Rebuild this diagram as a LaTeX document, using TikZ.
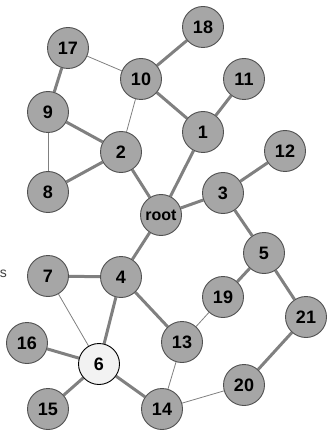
\documentclass[tikz,border=0pt]{standalone}
\usepackage{fontspec}
\setmainfont{Liberation Sans}
\usetikzlibrary{backgrounds}
\definecolor{nodefill}{HTML}{A6A6A6}
\definecolor{nodeline}{HTML}{505050}
\definecolor{edgecol}{HTML}{808080}
\definecolor{lightfill}{HTML}{F2F2F2}
\tikzset{
  vert/.style={circle, draw=nodeline, fill=nodefill, line width=0.9pt, minimum size=41pt, inner sep=0pt, font=\fontsize{18}{18}\selectfont\bfseries, text=black},
  special/.style={vert, fill=lightfill, draw=black},
  thickedge/.style={draw=edgecol, line width=3pt},
  thinedge/.style={draw=edgecol, line width=0.8pt},
}
\begin{document}
\begin{tikzpicture}[x=1pt, y=-1pt]
\useasboundingbox (0,0) rectangle (326,430);
\begin{scope}
\clip (0,0) rectangle (326,430);
\node[anchor=base east, font=\fontsize{14}{14}\selectfont, text=black!75, inner sep=0pt] (frag) at (7,277) {s};
\end{scope}
\node[vert] (n17) at (68,48) {17};
\node[vert] (n18) at (203,27) {18};
\node[vert] (n10) at (141,79) {10};
\node[vert] (n11) at (244,79) {11};
\node[vert] (n9) at (48,112) {9};
\node[vert] (n1) at (203,132) {1};
\node[vert] (n2) at (121,152) {2};
\node[vert] (n12) at (285,151) {12};
\node[vert] (n8) at (48,192) {8};
\node[vert] (n3) at (223,193) {3};
\node[vert, font=\fontsize{16}{16}\selectfont\bfseries] (root) at (161,215) {root};
\node[vert] (n5) at (264,253) {5};
\node[vert] (n7) at (48,276) {7};
\node[vert] (n4) at (121,277) {4};
\node[vert] (n19) at (223,297) {19};
\node[vert] (n21) at (306,317) {21};
\node[vert] (n16) at (27,343) {16};
\node[vert] (n13) at (182,342) {13};
\node[special] (n6) at (99,364) {6};
\node[vert] (n20) at (244,385) {20};
\node[vert] (n15) at (48,409) {15};
\node[vert] (n14) at (162,409) {14};
\begin{scope}[on background layer]
\foreach \a/\b in {n17/n9, n18/n10, n10/n1, n11/n1, n9/n2, n2/n8, n2/root, n1/root, root/n3, n3/n12, n3/n5, root/n4, n5/n19, n5/n21, n7/n4, n4/n13, n4/n6, n16/n6, n6/n15, n6/n14, n21/n20}
  \draw[thickedge] (\a) -- (\b);
\foreach \a/\b in {n17/n10, n10/n2, n9/n8, n7/n6, n19/n13, n13/n14, n14/n20}
  \draw[thinedge] (\a) -- (\b);
\end{scope}
\end{tikzpicture}
\end{document}
